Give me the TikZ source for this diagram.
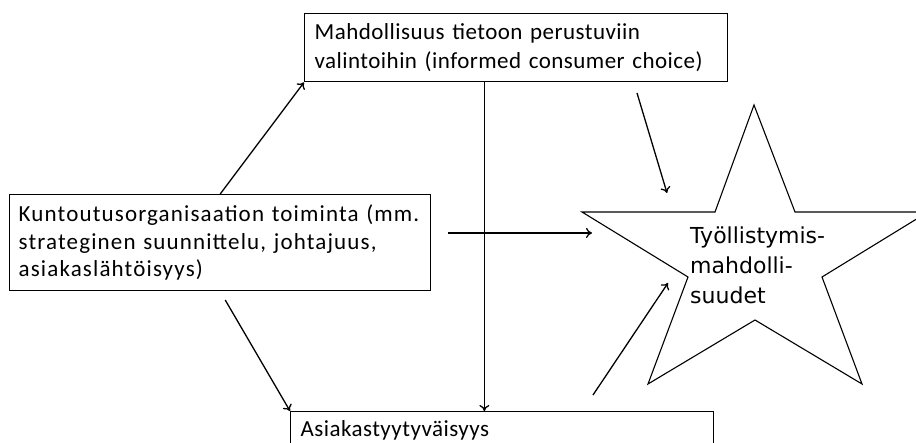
\documentclass[tikz,border=0pt]{standalone}
\usepackage{fontspec}
\setmainfont{Carlito}[LetterSpace=2]
\newfontfamily\orgfont{Carlito}[LetterSpace=5]
\newfontfamily\stardeco{DejaVu Sans}
\usetikzlibrary{arrows.meta,calc}
\begin{document}
\begin{tikzpicture}[x=1pt,y=-1pt,
  box/.style={draw,line width=1.4pt,anchor=north west,inner xsep=10pt,inner ysep=0pt,
    align=left,font=\fontsize{23}{29}\selectfont},
  link/.style={line width=1.3pt,-{To[length=6pt,width=10pt]}},
]
\path[use as bounding box] (0,0) rectangle (916,443);
\clip (0,0) rectangle (916,443);
\fill[white] (0,0) rectangle (916,443);

% boxes
\node[box,text width=403pt,minimum height=68pt] (choice) at (304,13)
  {Mahdollisuus tietoon perustuviin\\valintoihin (informed consumer choice)};
\node[box,inner xsep=9pt,text width=403pt,minimum height=96pt,
  font=\orgfont\fontsize{23}{27.5}\selectfont] (org) at (9,194)
  {Kuntoutusorganisaation toiminta (mm.\\strateginen suunnittelu, johtajuus,\\asiakaslähtöisyys)};
\node[box,text width=403pt,minimum height=38pt] (satis) at (290,411)
  {Asiakastyytyväisyys};

% star
\draw[line width=1.1pt,fill=white] (754,105) -- (795,212) -- (928,212) -- (822,277)
  -- (862,384) -- (755,320) -- (648,384) -- (688,277) -- (582,212) -- (715,212) -- cycle;
\node[anchor=north west,inner sep=0pt,align=left,font=\stardeco\fontsize{22}{30}\selectfont]
  (goal) at (690,227) {Työllistymis-\\mahdolli-\\suudet};

% free ends of the connectors
\coordinate (hstart) at (448,233);
\coordinate (hend) at (592,233);
\coordinate (tstart) at (637,93);
\coordinate (tend) at (667,193);
\coordinate (bstart) at (593,395);
\coordinate (bend) at (668,283);
\coordinate (vtop) at ($(choice.south west)!0.425!(choice.south east)$);

% connectors
\draw[link] (org.north) -- (choice.south west);
\draw[link,shorten <=10pt] (org.south) -- (satis.north west);
\draw[link] (vtop) -- (vtop |- satis.north);
\draw[link] (hstart) -- (hend);
\draw[link] (tstart) -- (tend);
\draw[link] (bstart) -- (bend);
\end{tikzpicture}
\end{document}
